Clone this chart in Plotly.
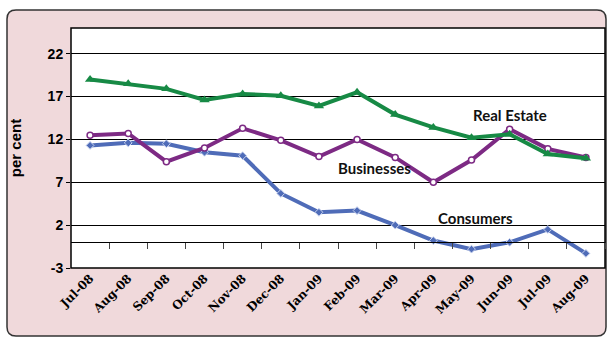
import plotly.graph_objects as go

months = ["Jul-08", "Aug-08", "Sep-08", "Oct-08", "Nov-08", "Dec-08", "Jan-09",
          "Feb-09", "Mar-09", "Apr-09", "May-09", "Jun-09", "Jul-09", "Aug-09"]
real_estate = [19.0, 18.5, 17.9, 16.6, 17.3, 17.1, 15.9, 17.5, 14.9, 13.4, 12.2, 12.6, 10.3, 9.8]
businesses = [12.5, 12.7, 9.4, 11.0, 13.3, 11.9, 10.0, 12.0, 9.9, 7.0, 9.6, 13.2, 10.9, 9.9]
consumers = [11.3, 11.6, 11.5, 10.5, 10.1, 5.7, 3.5, 3.7, 2.0, 0.2, -0.8, 0.0, 1.5, -1.3]
y_ticks = [-3, 2, 7, 12, 17, 22]
y_tick_labels = ["-3", "2", "7", "12", "17", "22"]

GREEN = "#178a45"
PURPLE = "#7d2a84"
BLUE = "#4f6cb8"
PINK = "#f0d9db"

W, H = 607, 338
ml, mr, mt, mb = 71, 2, 28, 70
pw, ph = W - ml - mr, H - mt - mb

def px_x(p):
    return (p - ml) / pw

def px_y(p):
    return (H - mb - p) / ph

fig = go.Figure()

fig.add_trace(go.Scatter(x=months, y=consumers, mode="lines+markers",
                         line=dict(color=BLUE, width=4),
                         marker=dict(symbol="diamond", size=6, color=BLUE,
                                     line=dict(color="#c8d2ee", width=1)),
                         showlegend=False))
fig.add_trace(go.Scatter(x=months, y=businesses, mode="lines+markers",
                         line=dict(color=PURPLE, width=4),
                         marker=dict(symbol="circle", size=6, color="white",
                                     line=dict(color=PURPLE, width=1.5)),
                         showlegend=False))
fig.add_trace(go.Scatter(x=months, y=real_estate, mode="lines+markers",
                         line=dict(color=GREEN, width=4),
                         marker=dict(symbol="triangle-up", size=9, color=GREEN),
                         showlegend=False))
# invisible trace to carry the zero-line axis
fig.add_trace(go.Scatter(x=months, y=[0] * len(months), xaxis="x2", mode="lines",
                         line=dict(width=0), hoverinfo="skip", showlegend=False))

# Background panel with rounded corners (decorative)
x0, x1 = px_x(7), px_x(606)
y0, y1 = px_y(336), px_y(10)
rx = 9 / pw
ry = 9 / ph
path = (f"M {x0},{y0+ry} L {x0},{y1-ry} Q {x0},{y1} {x0+rx},{y1} "
        f"L {x1-rx},{y1} Q {x1},{y1} {x1},{y1-ry} L {x1},{y0+ry} "
        f"Q {x1},{y0} {x1-rx},{y0} L {x0+rx},{y0} Q {x0},{y0} {x0},{y0+ry} Z")
fig.add_shape(type="path", path=path, xref="paper", yref="paper",
              fillcolor=PINK, line=dict(color="#333333", width=1.5), layer="below")
fig.add_shape(type="rect", x0=0, x1=1, y0=0, y1=1, xref="paper", yref="paper",
              fillcolor="white", line=dict(color="black", width=1.5), layer="below")

ann_font = dict(family="Lato, Open Sans, sans-serif", size=15, color="#111111")
fig.add_annotation(x=11, y=14.9, text="<b>Real Estate</b>", showarrow=False,
                   font=ann_font, xanchor="center", yanchor="middle")
fig.add_annotation(x=7.45, y=8.7, text="<b>Businesses</b>", showarrow=False,
                   font=ann_font, xanchor="center", yanchor="middle")
fig.add_annotation(x=10.1, y=2.8, text="<b>Consumers</b>", showarrow=False,
                   font=ann_font, xanchor="center", yanchor="middle")

fig.update_layout(
    width=W, height=H,
    margin=dict(l=ml, r=mr, t=mt, b=mb),
    paper_bgcolor="white",
    plot_bgcolor="white",
    xaxis=dict(type="category", categoryarray=months, range=[-0.5, 13.5],
               showgrid=False, showline=False, ticks="",
               tickangle=-45,
               tickfont=dict(family="DejaVu Serif, Liberation Serif, serif",
                             size=12, color="black", weight="bold")),
    xaxis2=dict(type="category", categoryarray=months, range=[-0.5, 13.5],
                overlaying="x", anchor="free", position=3 / 28,
                showline=True, linecolor="black", linewidth=1,
                ticks="outside", tickson="boundaries", ticklen=6, tickcolor="#444444",
                showticklabels=False, showgrid=False),
    yaxis=dict(range=[-3, 25], tickvals=y_ticks, ticktext=y_tick_labels, showgrid=True,
               gridcolor="black", gridwidth=1, zeroline=False,
               ticks="outside", ticklen=4, tickcolor="black",
               showline=False,
               tickfont=dict(family="Liberation Sans, Arial, sans-serif",
                             size=14, color="black", weight="bold"),
               title=dict(text="<b>per cent</b>", standoff=22,
                          font=dict(family="Liberation Sans, Arial, sans-serif",
                                    size=15, color="black"))),
)

fig.write_html("out.html")
